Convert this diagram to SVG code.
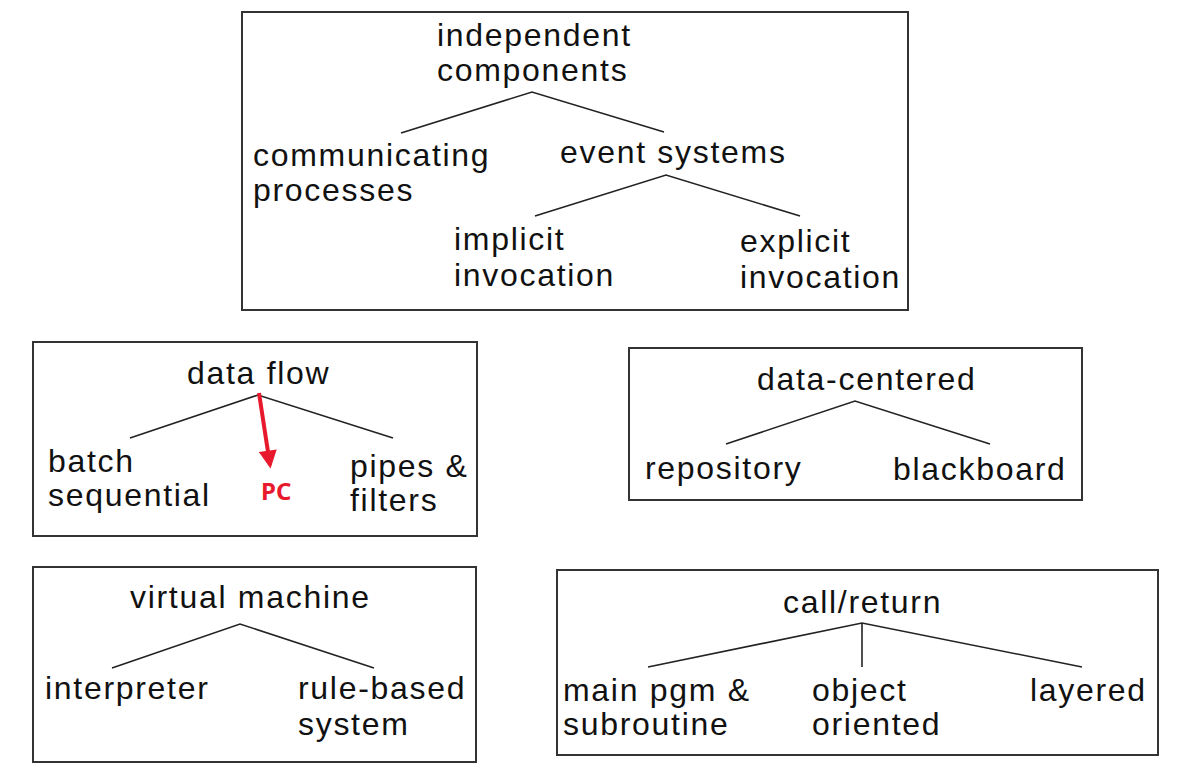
<svg xmlns="http://www.w3.org/2000/svg" width="1179" height="771" viewBox="0 0 1179 771">
<style>
.box{fill:#fff;stroke:#333;stroke-width:2}
.t{font-family:"Liberation Sans",Arial,sans-serif;font-size:32px;letter-spacing:1.7px;fill:#111}
.ln{stroke:#222;stroke-width:1.6;fill:none}
.pc{font-family:"Noto Sans","Liberation Sans",sans-serif;font-size:24px;font-weight:bold;fill:#e8192c}
</style>
<defs>
<marker id="ah" viewBox="0 0 10 10" refX="8" refY="5" markerWidth="5.5" markerHeight="4.5" orient="auto" markerUnits="strokeWidth">
<path d="M0,0 L10,5 L0,10 z" fill="#e8192c"/>
</marker>
</defs>
<rect width="1179" height="771" fill="#fff"/>
<g id="independent-components">
<rect class="box" x="242" y="12" width="666" height="298"/>
<text class="t" x="437" y="46">independent</text>
<text class="t" x="437" y="81">components</text>
<text class="t" x="253" y="166">communicating</text>
<text class="t" x="253" y="201">processes</text>
<text class="t" x="560" y="163">event systems</text>
<text class="t" x="454" y="250">implicit</text>
<text class="t" x="454" y="286">invocation</text>
<text class="t" x="740" y="252">explicit</text>
<text class="t" x="740" y="288">invocation</text>
</g>
<g id="data-flow">
<rect class="box" x="33" y="342" width="444" height="194"/>
<text class="t" x="187" y="384">data flow</text>
<text class="t" x="48" y="472">batch</text>
<text class="t" x="48" y="506">sequential</text>
<text class="t" x="350" y="477">pipes &amp;</text>
<text class="t" x="350" y="511">filters</text>
<text class="pc" x="261" y="500">PC</text>
</g>
<g id="data-centered">
<rect class="box" x="629" y="348" width="453" height="152"/>
<text class="t" x="757" y="390">data-centered</text>
<text class="t" x="645" y="479">repository</text>
<text class="t" x="893" y="480">blackboard</text>
</g>
<g id="virtual-machine">
<rect class="box" x="33" y="567" width="443" height="195"/>
<text class="t" x="130" y="608">virtual machine</text>
<text class="t" x="45" y="699">interpreter</text>
<text class="t" x="298" y="699">rule-based</text>
<text class="t" x="298" y="735">system</text>
</g>
<g id="call-return">
<rect class="box" x="557" y="570" width="601" height="185"/>
<text class="t" x="783" y="613">call/return</text>
<text class="t" x="563" y="701">main pgm &amp;</text>
<text class="t" x="563" y="735">subroutine</text>
<text class="t" x="812" y="701">object</text>
<text class="t" x="812" y="735">oriented</text>
<text class="t" x="1030" y="701">layered</text>
</g>
<g id="connectors">
<polyline class="ln" points="401,133 532,92 664,132"/>
<polyline class="ln" points="535,216 666,175 800,216"/>
<polyline class="ln" points="130,438 258,395 393,438"/>
<polyline class="ln" points="726,444 855,401 990,444"/>
<polyline class="ln" points="112,668 240,624 374,668"/>
<polyline class="ln" points="648,667 862,623 1082,667"/>
<line class="ln" x1="862" y1="623" x2="862" y2="667"/>
<line x1="259" y1="393" x2="270" y2="465" stroke="#e8192c" stroke-width="4" marker-end="url(#ah)"/>
</g>
</svg>
